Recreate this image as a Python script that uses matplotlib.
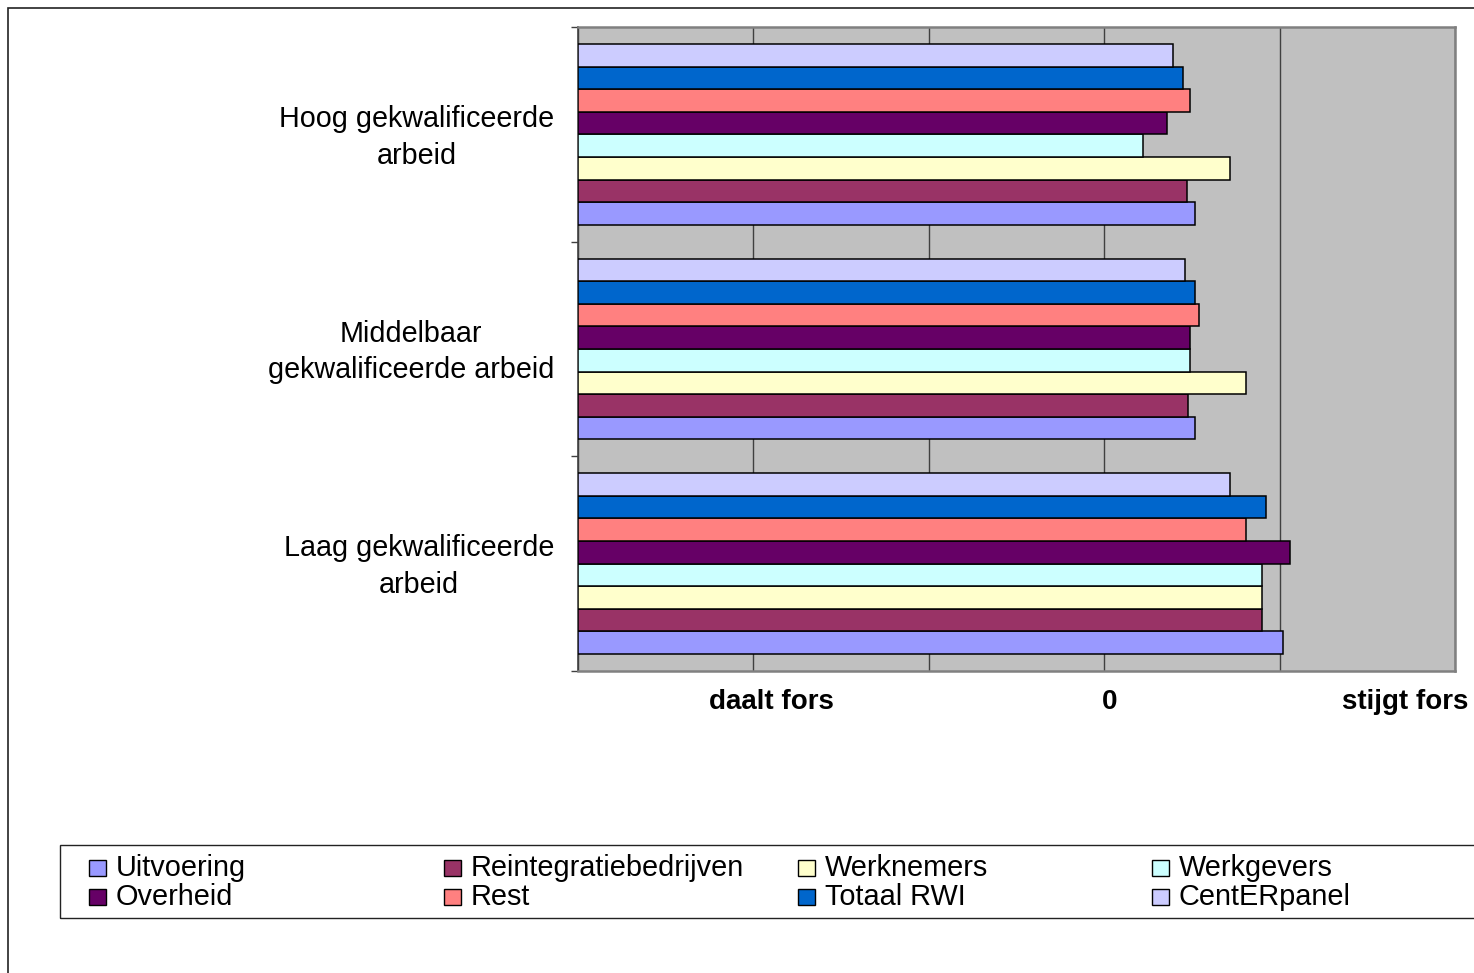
import matplotlib
matplotlib.use("Agg")
import matplotlib.pyplot as plt
import matplotlib.transforms as mtransforms
from matplotlib.patches import Rectangle

plt.rcParams['font.family'] = ['Liberation Sans', 'DejaVu Sans']

# ---- data ----
categories = ["Laag gekwalificeerde\narbeid",
              "Middelbaar\ngekwalificeerde arbeid",
              "Hoog gekwalificeerde\narbeid"]
series_names = ["Uitvoering", "Reintegratiebedrijven", "Werknemers", "Werkgevers",
                "Overheid", "Rest", "Totaal RWI", "CentERpanel"]
# values per series, in category order [Laag, Middelbaar, Hoog]
uitvoering = [1.02, 0.52, 0.52]
reintegratiebedrijven = [0.90, 0.48, 0.47]
werknemers = [0.90, 0.81, 0.72]
werkgevers = [0.90, 0.49, 0.22]
overheid = [1.06, 0.49, 0.36]
rest = [0.81, 0.54, 0.49]
totaal_rwi = [0.92, 0.52, 0.45]
centerpanel = [0.72, 0.46, 0.39]
series_values = [uitvoering, reintegratiebedrijven, werknemers, werkgevers,
                 overheid, rest, totaal_rwi, centerpanel]
x_tick_labels = ["daalt fors", "0", "stijgt fors"]
x_min, x_max = -3, 2

colors = ["#9999FF", "#993366", "#FFFFCC", "#CCFFFF",
          "#660066", "#FF8080", "#0066CC", "#CCCCFF"]

W, H = 1474, 973
fig = plt.figure(figsize=(W / 100, H / 100), dpi=100)
fig.patch.set_facecolor("white")

# outer chart border (only top and left visible)
fig.add_artist(Rectangle((8 / W, -0.1), 1.2, 1 - 8 / H + 0.1, transform=fig.transFigure,
                         fill=False, edgecolor="#222222", linewidth=1.2))

ax = fig.add_axes([578 / W, 1 - 671 / H, 877 / W, 644 / H])
ax.set_facecolor("#C0C0C0")

n = len(series_names)
h = 22.6 / 214.7
for i, (name, vals, col) in enumerate(zip(series_names, series_values, colors)):
    ys = [c + (i - (n - 1) / 2) * h for c in range(len(categories))]
    widths = [v - x_min for v in vals]
    ax.barh(ys, widths, left=x_min, height=h, color=col, edgecolor="black",
            linewidth=1.1, zorder=3, label=name)

ax.set_xlim(x_min, x_max)
ax.set_ylim(-0.5, len(categories) - 0.5)
ax.set_xticks(range(x_min, x_max + 1))
ax.set_xticklabels([])
ax.tick_params(axis='x', length=0)
ax.grid(axis='x', color="#404040", linewidth=1.0, zorder=1)
ax.set_axisbelow(True)
ax.set_yticks([c - 0.5 for c in range(len(categories) + 1)])
ax.set_yticklabels([])
ax.tick_params(axis='y', direction='out', length=5, width=1.0, color="#404040")

for s in ["top", "right", "bottom"]:
    ax.spines[s].set_color("#808080")
    ax.spines[s].set_linewidth(1.8)
ax.spines["left"].set_color("#404040")
ax.spines["left"].set_linewidth(1.2)

# category labels
tr = mtransforms.blended_transform_factory(fig.transFigure, ax.transData)
tr = tr + mtransforms.ScaledTranslation(0, -3 / 100, fig.dpi_scale_trans)
for c, lab in enumerate(categories):
    ax.text(554 / W, c, lab, transform=tr, ha='right', va='center',
            multialignment='center', fontsize=20.7, linespacing=1.4)

# x labels
tr2 = mtransforms.blended_transform_factory(ax.transData, fig.transFigure)
x_label_pos = [-1.90, 0.03, 1.715]
for xp, lab in zip(x_label_pos, x_tick_labels):
    ax.text(xp, 1 - 702 / H, lab, transform=tr2, ha='center', va='center',
            fontsize=20, fontweight='bold')

# legend (manual, row-major, 4 columns)
fig.add_artist(Rectangle((60 / W, 1 - 918 / H), 1.2, 73 / H, transform=fig.transFigure,
                         fill=False, edgecolor="#222222", linewidth=1.0))
col_x = [89, 444, 798, 1152]
row_y = [868, 897]
for i, (name, col) in enumerate(zip(series_names, colors)):
    r, c = divmod(i, 4)
    px, py = col_x[c], row_y[r]
    fig.add_artist(Rectangle((px / W, 1 - (py + 8) / H), 17 / W, 16 / H,
                             transform=fig.transFigure, facecolor=col,
                             edgecolor="black", linewidth=1.0))
    fig.text((px + 27) / W, 1 - py / H, name, ha='left', va='center', fontsize=20.8)

fig.savefig("out.png", dpi=100)
